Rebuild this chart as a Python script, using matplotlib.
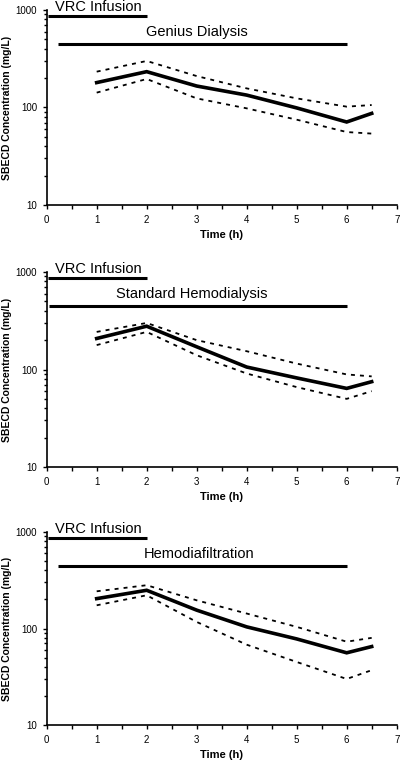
import matplotlib
matplotlib.use("Agg")
import matplotlib.pyplot as plt
from matplotlib.ticker import LogLocator, FixedLocator, NullFormatter, FuncFormatter

plt.rcParams['font.family'] = ['Liberation Sans', 'DejaVu Sans']

# sampling times (h)
times = [1, 2, 3, 4, 5, 6, 6.5]

# Genius dialysis
genius_mean = [180, 233, 166, 134, 99, 71, 87]
genius_upper = [233, 300, 210, 157, 124, 102, 106]
genius_lower = [142, 196, 124, 98, 75, 56, 54]

# standard hemodialysis
standard_mean = [208, 278, 171, 106, 82, 64, 75]
standard_upper = [243, 300, 200, 154, 115, 89, 85]
standard_lower = [178, 243, 140, 91, 66, 50, 60]

# hemodiafiltration
hdf_mean = [204, 249, 155, 104, 78, 56, 65]
hdf_upper = [243, 281, 196, 143, 104, 73, 80]
hdf_lower = [174, 221, 117, 68, 45, 30, 37]

panel_names = ['Genius Dialysis', 'Standard Hemodialysis', 'Hemodiafiltration']
panel_means = [genius_mean, standard_mean, hdf_mean]
panel_uppers = [genius_upper, standard_upper, hdf_upper]
panel_lowers = [genius_lower, standard_lower, hdf_lower]

# infusion / dialysis bars: (start, end, level)
infusion_bar = (0.03, 2.0, 870)
dialysis_starts = [0.23, 0.05, 0.23]
dialysis_end = 6.0
dialysis_level = 445
label_x = [3.0, 2.9, 3.05]

fig = plt.figure(figsize=(4, 7.61), dpi=100)

# axes boxes in figure fraction (left, bottom, width, height)
boxes = [
    (0.1167, 0.7306, 0.875, 0.2563),
    (0.1167, 0.3863, 0.875, 0.2563),
    (0.1167, 0.0473, 0.875, 0.2536),
]

for i in range(3):
    ax = fig.add_axes(boxes[i])
    ax.set_yscale('log')
    ax.set_ylim(10, 1000)
    ax.set_xlim(0, 7)

    ax.plot(times, panel_means[i], color='black', lw=2.6, solid_joinstyle='miter')
    ax.plot(times, panel_uppers[i], color='black', lw=1.3, linestyle=(0, (2.2, 2.8)))
    ax.plot(times, panel_lowers[i], color='black', lw=1.3, linestyle=(0, (2.2, 2.8)))

    # horizontal bars
    ax.plot([infusion_bar[0], infusion_bar[1]], [infusion_bar[2], infusion_bar[2]],
            color='black', lw=2.2, solid_capstyle='butt', clip_on=False)
    ax.plot([dialysis_starts[i], dialysis_end], [dialysis_level, dialysis_level],
            color='black', lw=2.2, solid_capstyle='butt', clip_on=False)
    ax.text(1.03, 915, 'VRC Infusion', ha='center', va='bottom', fontsize=10.5)
    ax.text(label_x[i], 500, panel_names[i], ha='center', va='bottom', fontsize=10.5)

    for s in ['top', 'right']:
        ax.spines[s].set_visible(False)
    ax.spines['left'].set_linewidth(1.2)
    ax.spines['bottom'].set_linewidth(1.2)

    ax.xaxis.set_major_locator(FixedLocator([0, 1, 2, 3, 4, 5, 6, 7]))
    ax.xaxis.set_minor_locator(FixedLocator([0.5, 1.5, 2.5, 3.5, 4.5, 5.5, 6.5]))
    ax.yaxis.set_major_locator(FixedLocator([10, 100, 1000]))
    ax.yaxis.set_major_formatter(FuncFormatter(lambda v, p: '%d' % v))
    ax.yaxis.set_minor_locator(LogLocator(base=10, subs=range(2, 10)))
    ax.yaxis.set_minor_formatter(NullFormatter())
    ax.tick_params(which='both', direction='out', length=3, width=1, labelsize=7, pad=4)
    ax.tick_params(axis='y', which='minor', length=2.5)

    ax.set_xlabel('Time (h)', fontsize=8, fontweight='bold', labelpad=4)
    ax.set_ylabel('SBECD Concentration (mg/L)', fontsize=7.5, fontweight='bold')
    ax.yaxis.set_label_coords(-0.098, 0.5)

fig.savefig('out.png', dpi=100)
